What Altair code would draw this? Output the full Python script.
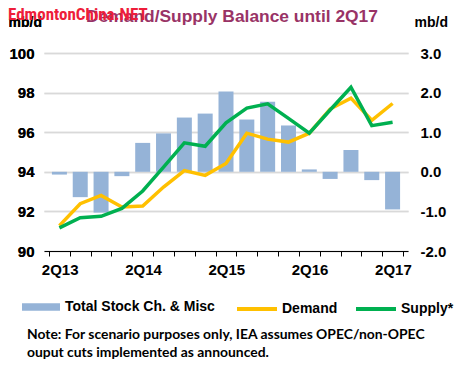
import altair as alt
import pandas as pd

quarters = ["2Q13", "3Q13", "4Q13", "1Q14", "2Q14", "3Q14", "4Q14", "1Q15", "2Q15",
            "3Q15", "4Q15", "1Q16", "2Q16", "3Q16", "4Q16", "1Q17", "2Q17"]
stock_change = [-0.07, -0.64, -1.03, -0.11, 0.73, 0.97, 1.37, 1.47, 2.03,
                1.32, 1.77, 1.17, 0.06, -0.18, 0.55, -0.21, -0.95]
demand = [91.28, 92.39, 92.81, 92.22, 92.27, 93.23, 94.06, 93.82, 94.42,
          95.95, 95.65, 95.50, 95.95, 97.17, 97.72, 96.60, 97.45]
supply = [91.17, 91.68, 91.75, 92.15, 93.03, 94.24, 95.46, 95.29, 96.47,
          97.22, 97.43, 96.70, 95.95, 97.12, 98.27, 96.33, 96.50]
label_quarters = ["2Q13", "2Q14", "2Q15", "2Q16", "2Q17"]
left_ticks = [90, 92, 94, 96, 98, 100]
right_ticks = [-2, -1, 0, 1, 2, 3]

bar_name = "Total Stock Ch. & Misc"
demand_name = "Demand"
supply_name = "Supply*"
title_text = "Demand/Supply Balance until 2Q17"
watermark = "EdmontonChina.NET"
note_text = "Note: For scenario purposes only, IEA assumes OPEC/non-OPEC\nouput cuts implemented as announced."

W, H = 364, 198
FONT = "Liberation Sans, Arial, sans-serif"

idx = list(range(len(quarters)))
bars_df = pd.DataFrame({"i": idx, "q": quarters, "v": stock_change, "series": bar_name})
demand_df = pd.DataFrame({"i": idx, "q": quarters, "v": demand, "series": demand_name})
supply_df = pd.DataFrame({"i": idx, "q": quarters, "v": supply, "series": supply_name})

# x axis: ticks at band boundaries, labels centred in bands
tick_vals = [i - 0.5 for i in range(len(quarters) + 1)]
expr = "''"
for q in reversed(label_quarters):
    expr = f"datum.value == {quarters.index(q) - 0.5} ? '{q}' : ({expr})"
xscale = alt.Scale(domain=[-0.5, len(quarters) - 0.5], nice=False, zero=False)
xaxis = alt.Axis(values=tick_vals, labelExpr=expr, labelOffset=W / len(quarters) / 2,
                 title=None, grid=False, domainColor="black", domainWidth=1,
                 tickColor="black", tickSize=5, labelFont=FONT, labelFontSize=15,
                 labelFontWeight="bold", labelColor="black", labelPadding=6,
                 labelFlush=False, labelOverlap=False, labelBound=False)
X = alt.X("i:Q", scale=xscale, axis=xaxis)

left_axis = alt.Axis(values=left_ticks, title="mb/d", titleAngle=0, titleAlign="left",
                     titleBaseline="alphabetic", titleX=-36, titleY=-27, titleFont=FONT,
                     titleFontSize=14, titleFontWeight="bold", titleColor="black",
                     grid=True, gridColor="#D9D9D9", gridWidth=1.5, domain=False, ticks=False,
                     labelFont=FONT, labelFontSize=15, labelFontWeight="bold",
                     labelColor="black", labelPadding=10, zindex=0)
right_axis = alt.Axis(orient="right", values=right_ticks,
                      labelExpr="replace(format(datum.value, '.1f'), '\u2212', '-')",
                      title="mb/d", titleAngle=0, titleAlign="left", titleBaseline="alphabetic",
                      titleX=6, titleY=-27, titleFont=FONT, titleFontSize=14,
                      titleFontWeight="bold", titleColor="black",
                      grid=False, domain=False, ticks=False, labelFont=FONT, labelFontSize=15,
                      labelFontWeight="bold", labelColor="black", labelPadding=12)
left_scale = alt.Scale(domain=[90, 100], nice=False, zero=False)

legend_common = dict(orient="none", title=None, labelFont=FONT, labelFontSize=14,
                     labelFontWeight="bold", labelColor="black", padding=0, labelLimit=300)

bars = alt.Chart(bars_df).mark_bar(width=15).encode(
    x=X,
    y=alt.Y("v:Q", scale=alt.Scale(domain=[-2, 3], nice=False), axis=right_axis),
    color=alt.Color("series:N", scale=alt.Scale(domain=[bar_name], range=["#95B3D7"]),
                    legend=alt.Legend(legendX=-22, legendY=235,
                                      symbolType="M-1,-0.2H1V0.2H-1Z", symbolSize=1444,
                                      symbolStrokeWidth=0, labelOffset=5, **legend_common)),
)


def line_layer(df, name, colour, lx):
    return alt.Chart(df).mark_line(strokeWidth=3.5).encode(
        x=X,
        y=alt.Y("v:Q", scale=left_scale, axis=left_axis),
        color=alt.Color("series:N", scale=alt.Scale(domain=[name], range=[colour]),
                        legend=alt.Legend(legendX=lx, legendY=234, symbolType="stroke",
                                          symbolSize=1600, symbolStrokeWidth=4,
                                          labelOffset=3, **legend_common)),
    )


demand_line = line_layer(demand_df, demand_name, "#FFC000", 191)
supply_line = line_layer(supply_df, supply_name, "#00B050", 310)

title = alt.Chart(pd.DataFrame({"t": [title_text]})).mark_text(
    font=FONT, fontSize=17.4, fontWeight="bold", color="#993366", align="center",
    baseline="alphabetic").encode(x=alt.value(188), y=alt.value(-31), text="t:N")

wm = alt.Chart(pd.DataFrame({"t": [watermark]})).mark_text(
    font="Liberation Sans Narrow, Roboto Condensed, DejaVu Sans Condensed, sans-serif",
    fontSize=17, fontWeight="bold", color="#EE1D3A", align="left",
    baseline="alphabetic").encode(x=alt.value(-36), y=alt.value(-33), text="t:N")

note = alt.Chart(pd.DataFrame({"t": [note_text]})).mark_text(
    font="Lato, sans-serif", fontSize=13.9, fontWeight="bold", color="black", align="left",
    baseline="middle", lineBreak="\n", lineHeight=18).encode(
    x=alt.value(-17), y=alt.value(282), text="t:N")

chart = alt.layer(bars, demand_line, supply_line, title, wm, note).resolve_scale(
    y="independent", color="independent").resolve_legend(color="independent").properties(
    width=W, height=H,
    autosize=alt.AutoSizeParams(type="none"),
    padding={"left": 36, "top": 45, "right": 48, "bottom": 120},
).configure_view(stroke=None)

chart.save("out.html", embed_options={"renderer": "svg", "actions": False})
